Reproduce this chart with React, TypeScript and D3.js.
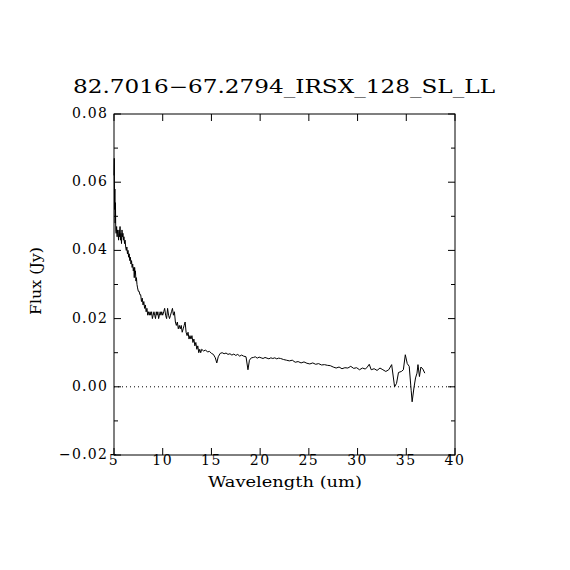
import * as d3 from 'd3';

// spectrum: wavelength (um) and flux (Jy)
const wavelength = [
  5.0, 5.03, 5.06, 5.09, 5.12, 5.15, 5.18, 5.22, 5.27, 5.32, 5.37, 5.42, 5.47, 5.52, 5.57,
  5.62, 5.67, 5.72, 5.77, 5.82, 5.87, 5.92, 5.97, 6.02, 6.08, 6.14, 6.2, 6.26, 6.32, 6.38,
  6.44, 6.5, 6.56, 6.62, 6.68, 6.74, 6.8, 6.86, 6.92, 6.98, 7.04, 7.08, 7.12, 7.16, 7.2,
  7.25, 7.3, 7.36, 7.42, 7.5, 7.58, 7.66, 7.74, 7.82, 7.9, 7.98, 8.06, 8.14, 8.22, 8.3,
  8.38, 8.46, 8.54, 8.62, 8.7, 8.78, 8.86, 8.94, 9.02, 9.1, 9.18, 9.26, 9.34, 9.42, 9.5,
  9.58, 9.66, 9.74, 9.82, 9.9, 10.0, 10.1, 10.2, 10.3, 10.4, 10.5, 10.6, 10.7, 10.8, 10.9,
  11.0, 11.1, 11.2, 11.3, 11.4, 11.5, 11.6, 11.7, 11.8, 11.9, 12.0, 12.1, 12.2, 12.3, 12.4,
  12.5, 12.6, 12.7, 12.8, 12.9, 13.0, 13.1, 13.2, 13.3, 13.4, 13.5, 13.6, 13.7, 13.8, 13.9,
  14.0, 14.2, 14.4, 14.6, 14.8, 15.0, 15.2, 15.4, 15.55, 15.7, 15.9, 16.1, 16.3, 16.5, 16.7,
  16.9, 17.1, 17.3, 17.5, 17.7, 17.9, 18.1, 18.3, 18.55, 18.75, 18.9, 19.1, 19.3, 19.5, 19.7,
  19.9, 20.1, 20.3, 20.5, 20.7, 20.9, 21.1, 21.3, 21.5, 21.7, 21.9, 22.1, 22.4, 22.7, 23.0,
  23.3, 23.6, 23.9, 24.2, 24.5, 24.8, 25.1, 25.4, 25.7, 26.0, 26.3, 26.6, 26.9, 27.2, 27.5,
  27.8, 28.1, 28.4, 28.7, 29.0, 29.3, 29.6, 29.9, 30.2, 30.5, 30.8, 31.0, 31.2, 31.4, 31.7,
  32.0, 32.3, 32.6, 32.9, 33.2, 33.5, 33.8, 34.0, 34.2, 34.5, 34.7, 34.9, 35.1, 35.3, 35.5,
  35.6, 35.8, 35.95, 36.1, 36.2, 36.35, 36.5, 36.7, 36.9,
];

const flux = [
  0.062, 0.067, 0.052, 0.058, 0.048, 0.054, 0.046, 0.045, 0.047, 0.044, 0.046, 0.045, 0.043, 0.046, 0.044,
  0.047, 0.043, 0.045, 0.042, 0.046, 0.044, 0.045, 0.043, 0.044, 0.042, 0.043, 0.041, 0.04, 0.041, 0.039,
  0.04, 0.038, 0.039, 0.037, 0.038, 0.036, 0.037, 0.035, 0.036, 0.034, 0.035, 0.032, 0.035, 0.033, 0.034,
  0.031, 0.032, 0.03, 0.029, 0.028, 0.028, 0.027, 0.027, 0.025, 0.026, 0.024, 0.025, 0.023, 0.024, 0.022,
  0.023, 0.021, 0.022, 0.021, 0.022, 0.021, 0.022, 0.02, 0.021, 0.022, 0.021, 0.02, 0.022, 0.021, 0.022,
  0.02, 0.021, 0.022, 0.021, 0.022, 0.021, 0.022, 0.023, 0.021, 0.02, 0.023, 0.021, 0.02, 0.021, 0.022,
  0.023, 0.021, 0.022, 0.019, 0.018, 0.019, 0.017, 0.018, 0.017, 0.018, 0.016, 0.017, 0.018, 0.019, 0.016,
  0.015, 0.016, 0.014, 0.015, 0.014, 0.015, 0.013, 0.014, 0.012, 0.013, 0.011, 0.012, 0.01, 0.011, 0.01,
  0.011, 0.0105, 0.0108, 0.0102, 0.0104, 0.0098, 0.0095, 0.0085, 0.007, 0.0088, 0.0098, 0.01, 0.0097, 0.0099, 0.0095,
  0.0097, 0.0093, 0.0096, 0.0092, 0.0095, 0.009, 0.0093, 0.009, 0.0088, 0.005, 0.0078, 0.0085, 0.0086, 0.0088, 0.0084,
  0.0087, 0.0085, 0.0083, 0.0086, 0.0084, 0.0082, 0.0085, 0.0083, 0.0085, 0.0082, 0.0084, 0.0083, 0.008, 0.0078, 0.0076,
  0.0078, 0.0072, 0.0074, 0.007, 0.0073, 0.0069, 0.0067, 0.007, 0.0066, 0.0068, 0.0064, 0.0065, 0.0063, 0.0062, 0.0058,
  0.0055, 0.0058, 0.0053, 0.0056, 0.0055, 0.006, 0.0054, 0.0056, 0.005, 0.0055, 0.0052, 0.0058, 0.0066, 0.005, 0.0053,
  0.0048, 0.0055, 0.005, 0.0045, 0.005, 0.0065, 0.0, 0.001, 0.0042, 0.0045, 0.005, 0.0094, 0.0068, 0.006, -0.001,
  -0.0044, 0.0, 0.0026, 0.004, 0.0065, 0.003, 0.0058, 0.0052, 0.004,
];

const xTicks = [5, 10, 15, 20, 25, 30, 35, 40];
const yTicks = [-0.02, 0, 0.02, 0.04, 0.06, 0.08];
const yMinorTicks = [-0.01, 0.01, 0.03, 0.05, 0.07];

const title = '82.7016\u221267.2794_IRSX_128_SL_LL';
const xLabel = 'Wavelength (um)';
const yLabel = 'Flux (Jy)';

export default function App() {
  const width = 570;
  const height = 570;
  const left = 114, right = 455, top = 114, bottom = 455;
  const font = '"DejaVu Serif", serif';

  const x = d3.scaleLinear().domain([5, 40]).range([left, right]);
  const y = d3.scaleLinear().domain([-0.02, 0.08]).range([bottom, top]);
  const fmt = d3.format('.2f');

  const points = wavelength.map((w, i) => [w, flux[i]] as [number, number]);
  const line = d3.line<[number, number]>().x(d => x(d[0])).y(d => y(d[1]));

  return (
    <svg width={width} height={height} style={{ position: 'absolute', left: 0, top: 0, background: '#fff' }}>
      <rect x={0} y={0} width={width} height={height} fill="#fff" />

      {/* Title */}
      <text x={284} y={93} textAnchor="middle" fontFamily={font} fontSize={18}
        textLength={422} lengthAdjust="spacingAndGlyphs" fill="#000">{title}</text>

      {/* zero line */}
      <line x1={left} x2={right} y1={y(0)} y2={y(0)} stroke="#000" strokeWidth={1} strokeDasharray="1,3" />

      {/* spectrum */}
      <path d={line(points) || ''} fill="none" stroke="#000" strokeWidth={1} />

      {/* frame */}
      <rect x={left} y={top} width={right - left} height={bottom - top} fill="none" stroke="#000" strokeWidth={1} />

      {/* X ticks */}
      {xTicks.map(t => (
        <g key={'x' + t}>
          <line x1={x(t)} x2={x(t)} y1={bottom} y2={bottom - 7} stroke="#000" />
          <line x1={x(t)} x2={x(t)} y1={top} y2={top + 7} stroke="#000" />
          <text x={x(t)} y={465} textAnchor="middle" fontFamily={font} fontSize={14}
            letterSpacing={1.5} fill="#000">{t}</text>
        </g>
      ))}

      {/* Y ticks */}
      {yTicks.map(t => (
        <g key={'y' + t}>
          <line x1={left} x2={left + 7} y1={y(t)} y2={y(t)} stroke="#000" />
          <line x1={right} x2={right - 7} y1={y(t)} y2={y(t)} stroke="#000" />
          <text x={108} y={y(t)} textAnchor="end" dominantBaseline="middle" fontFamily={font}
            fontSize={14} letterSpacing={1.2} fill="#000">{fmt(t)}</text>
        </g>
      ))}
      {yMinorTicks.map(t => (
        <g key={'ym' + t}>
          <line x1={left} x2={left + 4} y1={y(t)} y2={y(t)} stroke="#000" />
          <line x1={right} x2={right - 4} y1={y(t)} y2={y(t)} stroke="#000" />
        </g>
      ))}

      {/* axis labels */}
      <text x={285} y={487} textAnchor="middle" fontFamily={font} fontSize={15}
        textLength={154} lengthAdjust="spacingAndGlyphs" fill="#000">{xLabel}</text>
      <text transform="translate(41,281) rotate(-90)" textAnchor="middle" fontFamily={font} fontSize={15}
        textLength={68} lengthAdjust="spacingAndGlyphs" fill="#000">{yLabel}</text>
    </svg>
  );
}
